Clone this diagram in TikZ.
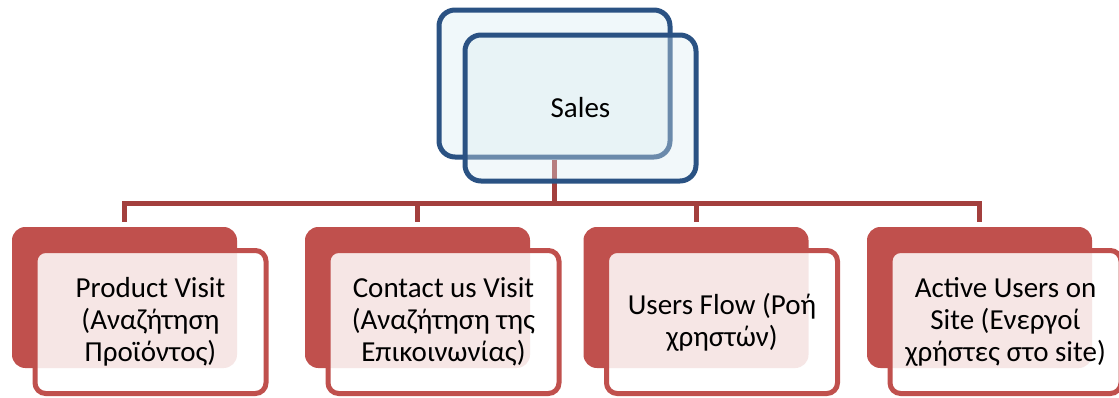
\documentclass[tikz,border=0pt]{standalone}
\usepackage{fontspec}
\setmainfont{Carlito}
\usepackage{xcolor}
\usetikzlibrary{positioning}
\definecolor{salesblue}{HTML}{2A5283}
\definecolor{salesfill}{HTML}{F0F8FA}
\definecolor{salesglass}{HTML}{DBECF1}
\definecolor{kidred}{HTML}{C0504D}
\definecolor{linkred}{HTML}{A33F3D}
\tikzset{%
    % Specifications for style of nodes:
    base/.style = {
        rectangle, inner sep=0pt, align=center,
        font=\fontsize{21.75}{24}\selectfont
    },
    salesback/.style = {base, draw=salesblue, line width=3.75pt,
        rounded corners=12pt, fill=salesfill,
        minimum width=173.25pt, minimum height=110.25pt},
    salesfront/.style = {salesback, fill=salesglass, fill opacity=0.37,
        text opacity=1, minimum height=109.5pt},
    kidback/.style = {base, fill=kidred, rounded corners=10pt,
        minimum width=168.75pt, minimum height=105.75pt},
    kidfront/.style = {base, draw=kidred, line width=3.75pt,
        rounded corners=8pt, fill=white, fill opacity=0.86,
        text opacity=1, minimum width=173.25pt, minimum height=107.25pt},
    link/.style = {draw=linkred, line width=3.75pt, shorten >=3.75pt}
}
\begin{document}
\begin{tikzpicture}[x=0.75pt, y=-0.75pt]
\useasboundingbox (0,0) rectangle (1119,397);
% back card of the top box
\node[salesback] (salesB) at (554.5,83.5) {};
% back cards of the four children
\node[kidback] (kid1B) at (124.5,297.5) {};
\node[kidback] (kid2B) at (417.5,297.5) {};
\node[kidback] (kid3B) at (696,297.5) {};
\node[kidback] (kid4B) at (979.5,297.5) {};
% tree lines
\coordinate (bus) at (554.5,203);
\draw[link, shorten >=0pt] (salesB.south) -- (bus);
\draw[link] (bus) -| (kid1B.north);
\draw[link] (bus) -| (kid2B.north);
\draw[link] (bus) -| (kid3B.north);
\draw[link] (bus) -| (kid4B.north);
% front cards
\node[salesfront] (salesF) at (580.5,108) {Sales};
\node[kidfront] (kid1F) at (150.5,322) {Product Visit\\(Αναζήτηση\\Προϊόντος)};
\node[kidfront] (kid2F) at (443.5,322) {Contact us Visit\\(Αναζήτηση της\\Επικοινωνίας)};
\node[kidfront] (kid3F) at (722,322) {Users Flow (Ροή\\χρηστών)};
\node[kidfront] (kid4F) at (1005.5,322) {Active Users on\\Site (Ενεργοί\\χρήστες στο site)};
\end{tikzpicture}
\end{document}
